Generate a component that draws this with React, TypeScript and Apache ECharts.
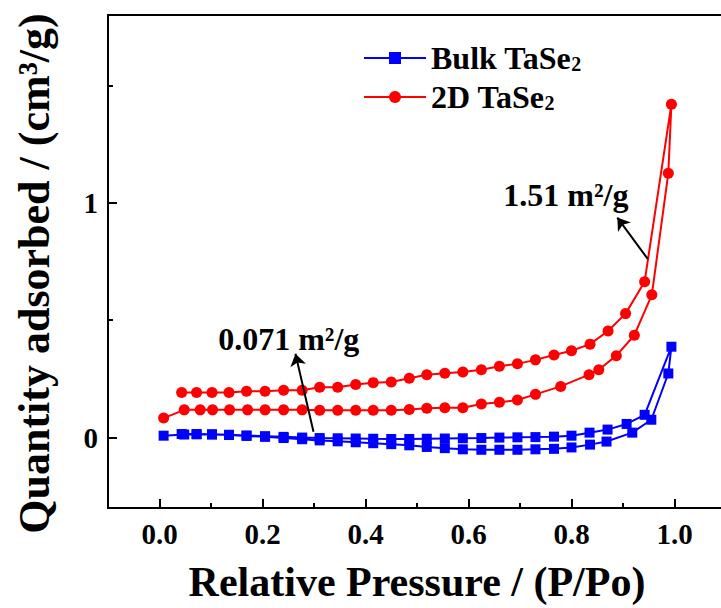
import React, { useEffect, useRef } from "react";
import * as echarts from "echarts";

// Relative pressure (P/Po) and quantity adsorbed (cm3/g)
const bulkAdsP = [0.008, 0.048, 0.072, 0.102, 0.135, 0.169, 0.205, 0.241, 0.277, 0.311, 0.346, 0.381, 0.415, 0.45, 0.485, 0.519, 0.554, 0.589, 0.625, 0.66, 0.695, 0.73, 0.766, 0.8, 0.836, 0.868, 0.918, 0.955, 0.988, 0.994];
const bulkAdsV = [0.008, 0.013, 0.014, 0.013, 0.011, 0.007, 0.003, -0.002, -0.007, -0.012, -0.016, -0.02, -0.024, -0.028, -0.033, -0.04, -0.045, -0.05, -0.052, -0.052, -0.052, -0.05, -0.048, -0.042, -0.03, -0.017, 0.021, 0.076, 0.273, 0.387];
const bulkDesP = [0.942, 0.907, 0.87, 0.835, 0.8, 0.766, 0.73, 0.695, 0.66, 0.625, 0.589, 0.554, 0.519, 0.485, 0.45, 0.415, 0.381, 0.346, 0.311, 0.277, 0.241, 0.205, 0.169, 0.135, 0.102, 0.072, 0.043];
const bulkDesV = [0.097, 0.058, 0.034, 0.021, 0.008, 0.004, 0.002, 0.001, 0.0, -0.002, -0.003, -0.004, -0.005, -0.006, -0.006, -0.005, -0.004, -0.003, -0.002, 0.0, 0.003, 0.006, 0.009, 0.012, 0.014, 0.015, 0.015];

const twoDAdsP = [0.008, 0.048, 0.079, 0.103, 0.136, 0.171, 0.205, 0.241, 0.277, 0.311, 0.346, 0.381, 0.415, 0.45, 0.485, 0.519, 0.554, 0.589, 0.625, 0.66, 0.695, 0.73, 0.779, 0.834, 0.853, 0.887, 0.922, 0.956, 0.988, 0.994];
const twoDAdsV = [0.083, 0.118, 0.118, 0.118, 0.118, 0.118, 0.118, 0.118, 0.118, 0.116, 0.116, 0.116, 0.116, 0.116, 0.12, 0.125, 0.127, 0.127, 0.143, 0.15, 0.16, 0.184, 0.218, 0.268, 0.289, 0.349, 0.436, 0.608, 1.126, 1.42];
const twoDDesP = [0.942, 0.905, 0.871, 0.836, 0.8, 0.766, 0.73, 0.695, 0.66, 0.625, 0.589, 0.554, 0.519, 0.485, 0.45, 0.415, 0.381, 0.346, 0.311, 0.277, 0.241, 0.205, 0.169, 0.135, 0.102, 0.072, 0.043];
const twoDDesV = [0.664, 0.528, 0.454, 0.398, 0.37, 0.352, 0.331, 0.314, 0.304, 0.289, 0.279, 0.274, 0.268, 0.253, 0.237, 0.234, 0.226, 0.214, 0.214, 0.202, 0.202, 0.197, 0.197, 0.192, 0.192, 0.192, 0.192];

const xMajorTicks = [0, 0.2, 0.4, 0.6, 0.8, 1.0];
const xMinorTicks = [0.1, 0.3, 0.5, 0.7, 0.9];
const yMajorTicks = [0, 1];
const yMinorTicks = [0.5, 1.5];

const seriesNames = ["Bulk TaSe2", "2D TaSe2"];
const annotationTexts = ["0.071 m²/g", "1.51 m²/g"];
// annotation anchor points in data units: [text, arrowTail, arrowHead]
const bulkNote = [[0.251, 0.42], [0.299, 0.025], [0.264, 0.357]];
const twoDNote = [[0.789, 1.034], [0.948, 0.761], [0.889, 0.937]];

const FONT = "'Liberation Serif', 'Times New Roman', serif";

function pairs(p: number[], v: number[]) {
  return p.map((x, i) => [x, v[i]]);
}

export default function App() {
  const ref = useRef<HTMLDivElement>(null);
  useEffect(() => {
    if (!ref.current) return;
    const chart = echarts.init(ref.current, null, { renderer: "svg" });
    const bold = { fontFamily: FONT, fontWeight: "bold" as const, color: "#000" };
    const arrowLine = (tail: number[], head: number[]) => ({
      silent: true,
      symbol: ["none", "arrow"],
      symbolSize: 12,
      lineStyle: { color: "#000", width: 2, type: "solid" },
      itemStyle: { color: "#000" },
      label: { show: false },
      emphasis: { disabled: true },
      data: [[{ coord: tail }, { coord: head }]],
    });
    const notePoint = (pos: number[], text: string) => ({
      silent: true,
      symbol: "circle",
      symbolSize: 0,
      itemStyle: { color: "transparent" },
      label: { show: true, position: "inside", formatter: text, fontSize: 32, ...bold },
      data: [{ coord: pos }],
    });
    chart.setOption({
      animation: false,
      backgroundColor: "#fff",
      grid: { left: 108, right: 4, top: 15, bottom: 94, show: true, borderColor: "#000", borderWidth: 2 },
      legend: {
        orient: "vertical",
        left: 358,
        top: 37,
        itemWidth: 62,
        itemHeight: 15,
        itemGap: 7,
        data: seriesNames,
        formatter: (n: string) => n.replace(/2$/, "{sub|2}"),
        textStyle: {
          fontSize: 32,
          ...bold,
          rich: { sub: { fontSize: 20, ...bold, verticalAlign: "bottom" } },
        },
      },
      xAxis: [
        {
          type: "value",
          min: -0.1,
          max: 1.1,
          axisLine: { show: true, onZero: false, lineStyle: { color: "#000", width: 2 } },
          axisTick: { show: true, inside: true, length: 9, customValues: xMajorTicks, lineStyle: { color: "#000", width: 2 } },
          axisLabel: { customValues: xMajorTicks, formatter: (v: number) => v.toFixed(1), fontSize: 29, margin: 11, ...bold },
          splitLine: { show: false },
          name: "Relative Pressure / (P/Po)",
          nameLocation: "middle",
          nameGap: 53,
          nameTextStyle: { fontSize: 42, ...bold },
        },
        {
          type: "value",
          min: -0.1,
          max: 1.1,
          position: "bottom",
          axisLine: { show: false, onZero: false },
          axisTick: { show: true, inside: true, length: 5, customValues: xMinorTicks, lineStyle: { color: "#000", width: 2 } },
          axisLabel: { show: false },
          splitLine: { show: false },
        },
      ],
      yAxis: [
        {
          type: "value",
          min: -0.3,
          max: 1.8,
          axisLine: { show: true, onZero: false, lineStyle: { color: "#000", width: 2 } },
          axisTick: { show: true, inside: true, length: 9, customValues: yMajorTicks, lineStyle: { color: "#000", width: 2 } },
          axisLabel: { customValues: yMajorTicks, fontSize: 29, margin: 10, ...bold },
          splitLine: { show: false },
          name: "Quantity adsorbed / (cm³/g)",
          nameLocation: "middle",
          nameGap: 52,
          nameRotate: 90,
          nameTextStyle: { fontSize: 44, ...bold, padding: [0, 24, 0, 0] },
        },
        {
          type: "value",
          min: -0.3,
          max: 1.8,
          position: "left",
          axisLine: { show: false, onZero: false },
          axisTick: { show: true, inside: true, length: 5, customValues: yMinorTicks, lineStyle: { color: "#000", width: 2 } },
          axisLabel: { show: false },
          splitLine: { show: false },
        },
      ],
      series: [
        {
          type: "line",
          name: seriesNames[0],
          data: [...pairs(bulkAdsP, bulkAdsV), ...pairs(bulkDesP, bulkDesV)],
          symbol: "rect",
          symbolSize: 10,
          lineStyle: { color: "#0000ff", width: 2 },
          itemStyle: { color: "#0000ff" },
          markLine: arrowLine(bulkNote[1], bulkNote[2]),
          markPoint: notePoint(bulkNote[0], annotationTexts[0]),
          z: 3,
        },
        {
          type: "line",
          name: seriesNames[1],
          data: [...pairs(twoDAdsP, twoDAdsV), ...pairs(twoDDesP, twoDDesV)],
          symbol: "circle",
          symbolSize: 11,
          lineStyle: { color: "#ff0000", width: 2 },
          itemStyle: { color: "#ff0000" },
          markLine: arrowLine(twoDNote[1], twoDNote[2]),
          markPoint: notePoint(twoDNote[0], annotationTexts[1]),
          z: 2,
        },
      ],
    });
    return () => chart.dispose();
  }, []);
  return (
    <div style={{ position: "fixed", left: 0, top: 0, width: 721, height: 608, overflow: "hidden", background: "#fff" }}>
      <div ref={ref} style={{ width: 730, height: 608 }} />
    </div>
  );
}
